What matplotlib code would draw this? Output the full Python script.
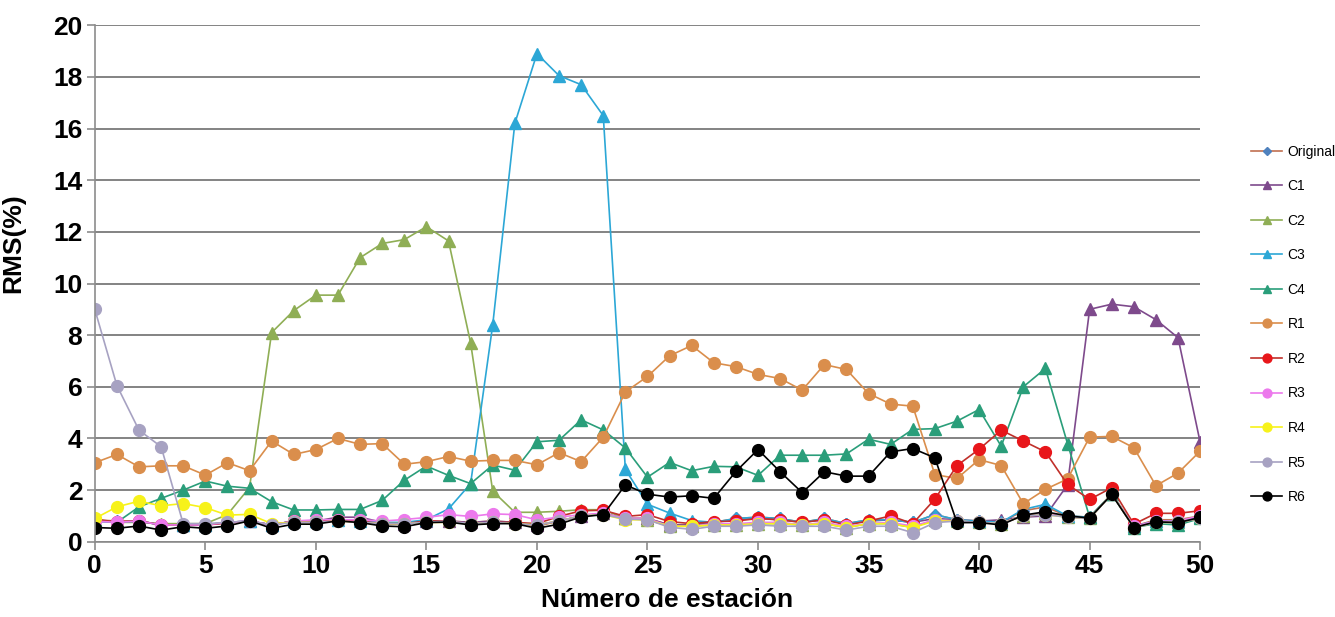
import matplotlib
matplotlib.use("Agg")
import matplotlib.pyplot as plt

plt.rcParams['font.family'] = ['Liberation Sans', 'DejaVu Sans']

estaciones = list(range(51))

original = [0.85, 0.8, 0.8, 0.65, 0.65, 0.65, 0.75, 0.8, 0.65, 0.8,
            0.8, 0.85, 0.8, 0.7, 0.7, 0.8, 0.8, 0.75, 0.8, 0.75,
            0.6, 0.8, 1.0, 1.1, 0.9, 0.9, 0.65, 0.65, 0.75, 0.9,
            0.95, 0.9, 0.75, 0.9, 0.7, 0.85, 0.85, 0.75, 1.05, 0.85,
            0.8, 0.75, 1.2, 1.35, 1.0, 0.95, 1.85, 0.6, 0.85, 0.85, 1.0]
c1 = [0.8, 0.75, 0.8, 0.65, 0.65, 0.65, 0.75, 0.8, 0.65, 0.8,
      0.8, 0.95, 0.95, 0.75, 0.7, 0.8, 0.8, 0.75, 0.8, 0.75,
      0.65, 0.8, 1.0, 1.1, 0.9, 0.9, 0.65, 0.65, 0.75, 0.85,
      0.9, 0.85, 0.75, 0.85, 0.7, 0.8, 0.85, 0.75, 0.9, 0.85,
      0.8, 0.85, 0.95, 1.0, 2.2, 9.0, 9.2, 9.1, 8.6, 7.9, 3.85]
c2 = [0.85, 0.75, 0.75, 0.7, 0.7, 0.7, 1.05, 2.1, 8.1, 8.95,
      9.55, 9.55, 11.0, 11.55, 11.7, 12.2, 11.65, 7.7, 1.96, 1.14,
      1.14, 1.18, 1.24, 1.24, 0.9, 0.85, 0.6, 0.6, 0.65, 0.65,
      0.7, 0.7, 0.65, 0.7, 0.55, 0.7, 0.7, 0.55, 0.85, 0.8,
      0.75, 0.7, 1.0, 1.1, 0.95, 0.9, 1.85, 0.6, 0.8, 0.75, 0.95]
c3 = [0.8, 0.75, 0.8, 0.65, 0.65, 0.65, 0.75, 0.8, 0.65, 0.8,
      0.8, 0.85, 0.8, 0.75, 0.75, 0.85, 1.27, 2.25, 8.4, 16.2,
      18.9, 18.05, 17.7, 16.5, 2.8, 1.45, 1.11, 0.82, 0.75, 0.9,
      0.95, 0.9, 0.75, 0.9, 0.7, 0.85, 0.85, 0.75, 1.05, 0.85,
      0.8, 0.75, 1.25, 1.45, 1.0, 0.95, 1.85, 0.6, 0.8, 0.8, 0.95]
c4 = [0.85, 0.75, 1.35, 1.68, 2.0, 2.35, 2.15, 2.07, 1.55, 1.23,
      1.23, 1.25, 1.25, 1.6, 2.38, 2.93, 2.57, 2.25, 2.97, 2.77,
      3.87, 3.93, 4.72, 4.33, 3.63, 2.5, 3.07, 2.75, 2.92, 2.9,
      2.57, 3.35, 3.35, 3.35, 3.4, 3.97, 3.77, 4.35, 4.38, 4.67,
      5.12, 3.7, 6.0, 6.71, 3.8, 0.95, 1.85, 0.55, 0.7, 0.65, 0.9]
r1 = [3.06, 3.38, 2.9, 2.94, 2.94, 2.58, 3.06, 2.75, 3.9, 3.38,
      3.57, 4.0, 3.77, 3.8, 3.0, 3.1, 3.3, 3.12, 3.15, 3.15,
      2.98, 3.45, 3.1, 4.05, 5.8, 6.4, 7.2, 7.6, 6.93, 6.78,
      6.48, 6.32, 5.87, 6.86, 6.67, 5.74, 5.33, 5.25, 2.6, 2.45,
      3.18, 2.95, 1.47, 2.03, 2.43, 4.05, 4.08, 3.64, 2.17, 2.66, 3.51]
r2 = [0.86, 0.77, 0.81, 0.65, 0.65, 0.65, 0.72, 0.8, 0.65, 0.8,
      0.8, 0.85, 0.8, 0.7, 0.7, 0.8, 0.8, 0.7, 0.75, 0.75,
      0.7, 0.98, 1.2, 1.22, 0.98, 1.05, 0.78, 0.7, 0.78, 0.8,
      0.9, 0.85, 0.75, 0.85, 0.65, 0.8, 1.0, 0.7, 1.65, 2.95,
      3.58, 4.32, 3.9, 3.48, 2.22, 1.64, 2.09, 0.68, 1.1, 1.1, 1.2]
r3 = [0.8, 0.75, 0.8, 0.65, 0.65, 0.65, 0.75, 0.8, 0.65, 0.8,
      0.85, 0.85, 0.85, 0.8, 0.86, 0.94, 1.05, 0.98, 1.08, 1.05,
      0.85, 0.95, 1.05, 1.1, 0.9, 0.9, 0.6, 0.6, 0.7, 0.7,
      0.75, 0.75, 0.65, 0.75, 0.6, 0.7, 0.75, 0.6, 0.85, 0.8,
      0.75, 0.7, 1.0, 1.1, 0.95, 0.9, 1.85, 0.6, 0.8, 0.8, 1.0]
r4 = [0.9, 1.35, 1.57, 1.39, 1.48, 1.32, 1.03, 1.06, 0.7, 0.75,
      0.75, 0.8, 0.75, 0.7, 0.7, 0.75, 0.75, 0.7, 0.75, 0.7,
      0.65, 0.8, 1.0, 1.05, 0.85, 0.85, 0.6, 0.6, 0.65, 0.65,
      0.7, 0.7, 0.65, 0.7, 0.55, 0.7, 0.7, 0.55, 0.8, 0.8,
      0.75, 0.7, 1.0, 1.05, 0.95, 0.9, 1.85, 0.55, 0.75, 0.75, 0.9]
r5 = [9.0, 6.05, 4.32, 3.68, 0.7, 0.7, 0.75, 0.8, 0.65, 0.75,
      0.75, 0.8, 0.75, 0.7, 0.7, 0.75, 0.8, 0.7, 0.75, 0.7,
      0.65, 0.8, 1.0, 1.05, 0.88, 0.85, 0.56, 0.48, 0.6, 0.6,
      0.65, 0.6, 0.6, 0.6, 0.45, 0.6, 0.6, 0.35, 0.74, 0.8,
      0.75, 0.7, 1.0, 1.05, 0.95, 0.9, 1.85, 0.55, 0.75, 0.75, 0.9]
r6 = [0.55, 0.52, 0.61, 0.45, 0.58, 0.52, 0.61, 0.81, 0.52, 0.68,
      0.68, 0.81, 0.74, 0.61, 0.58, 0.74, 0.76, 0.65, 0.7, 0.7,
      0.52, 0.68, 0.96, 1.05, 2.2, 1.84, 1.73, 1.78, 1.68, 2.72,
      3.57, 2.71, 1.9, 2.71, 2.54, 2.54, 3.48, 3.61, 3.25, 0.74,
      0.74, 0.65, 1.03, 1.16, 1.0, 0.92, 1.83, 0.55, 0.77, 0.74, 0.94]

nombres = ['Original', 'C1', 'C2', 'C3', 'C4', 'R1', 'R2', 'R3', 'R4', 'R5', 'R6']
series = [original, c1, c2, c3, c4, r1, r2, r3, r4, r5, r6]
colores = ['#4F81BD', '#7E4A8C', '#8FAE55', '#2CA7D6', '#2A9E7A', '#DA8E4C',
           '#E8161A', '#EC79EC', '#F7F21A', '#A7A2C2', '#000000']
lineas = ['#C07050', '#7E4A8C', '#8FAE55', '#2CA7D6', '#2A9E7A', '#DA8E4C',
          '#C0302A', '#EC79EC', '#F7F21A', '#A7A2C2', '#000000']
marcadores = ['D', '^', '^', '^', '^', 'o', 'o', 'o', 'o', 'o', 'o']

fig = plt.figure(figsize=(13.35, 6.17), dpi=100)
ax = fig.add_axes([0.071, 0.122, 0.828, 0.837])

for nombre, y, col, lc, m in zip(nombres, series, colores, lineas, marcadores):
    ms = 6 if m == 'D' else (8 if m == '^' else 8.5)
    ax.plot(estaciones, y, color=lc, linewidth=1.2, marker=m, markersize=ms,
            markerfacecolor=col, markeredgecolor=col, label=nombre)

ax.set_xlim(0, 50)
ax.set_ylim(0, 20)
ax.set_xticks(range(0, 51, 5))
ax.set_yticks(range(0, 21, 2))
ax.grid(axis='y', color='#7a7a7a', linewidth=1.3)
ax.set_axisbelow(True)
for s in ['top', 'right']:
    ax.spines[s].set_visible(False)
for s in ['left', 'bottom']:
    ax.spines[s].set_color('#8c8c8c')
    ax.spines[s].set_linewidth(1.2)
ax.tick_params(axis='both', colors='#8c8c8c', labelcolor='black', labelsize=19,
               width=1.2, length=6, pad=3)
for lab in ax.get_xticklabels() + ax.get_yticklabels():
    lab.set_fontweight('bold')

ax.set_xlabel('Número de estación', fontsize=19, fontweight='bold')
ax.set_ylabel('RMS(%)', fontsize=19, fontweight='bold')
ax.xaxis.label.set_va('center')
ax.xaxis.set_label_coords(0.518, -0.113)
ax.yaxis.set_label_coords(-0.063, 0.578)

leg = fig.legend(loc='upper left', bbox_to_anchor=(0.928, 0.786), frameon=False,
                 fontsize=10, labelspacing=1.48, handlelength=2.2,
                 handletextpad=0.4, markerscale=0.75)

fig.savefig('out.png', dpi=100)
